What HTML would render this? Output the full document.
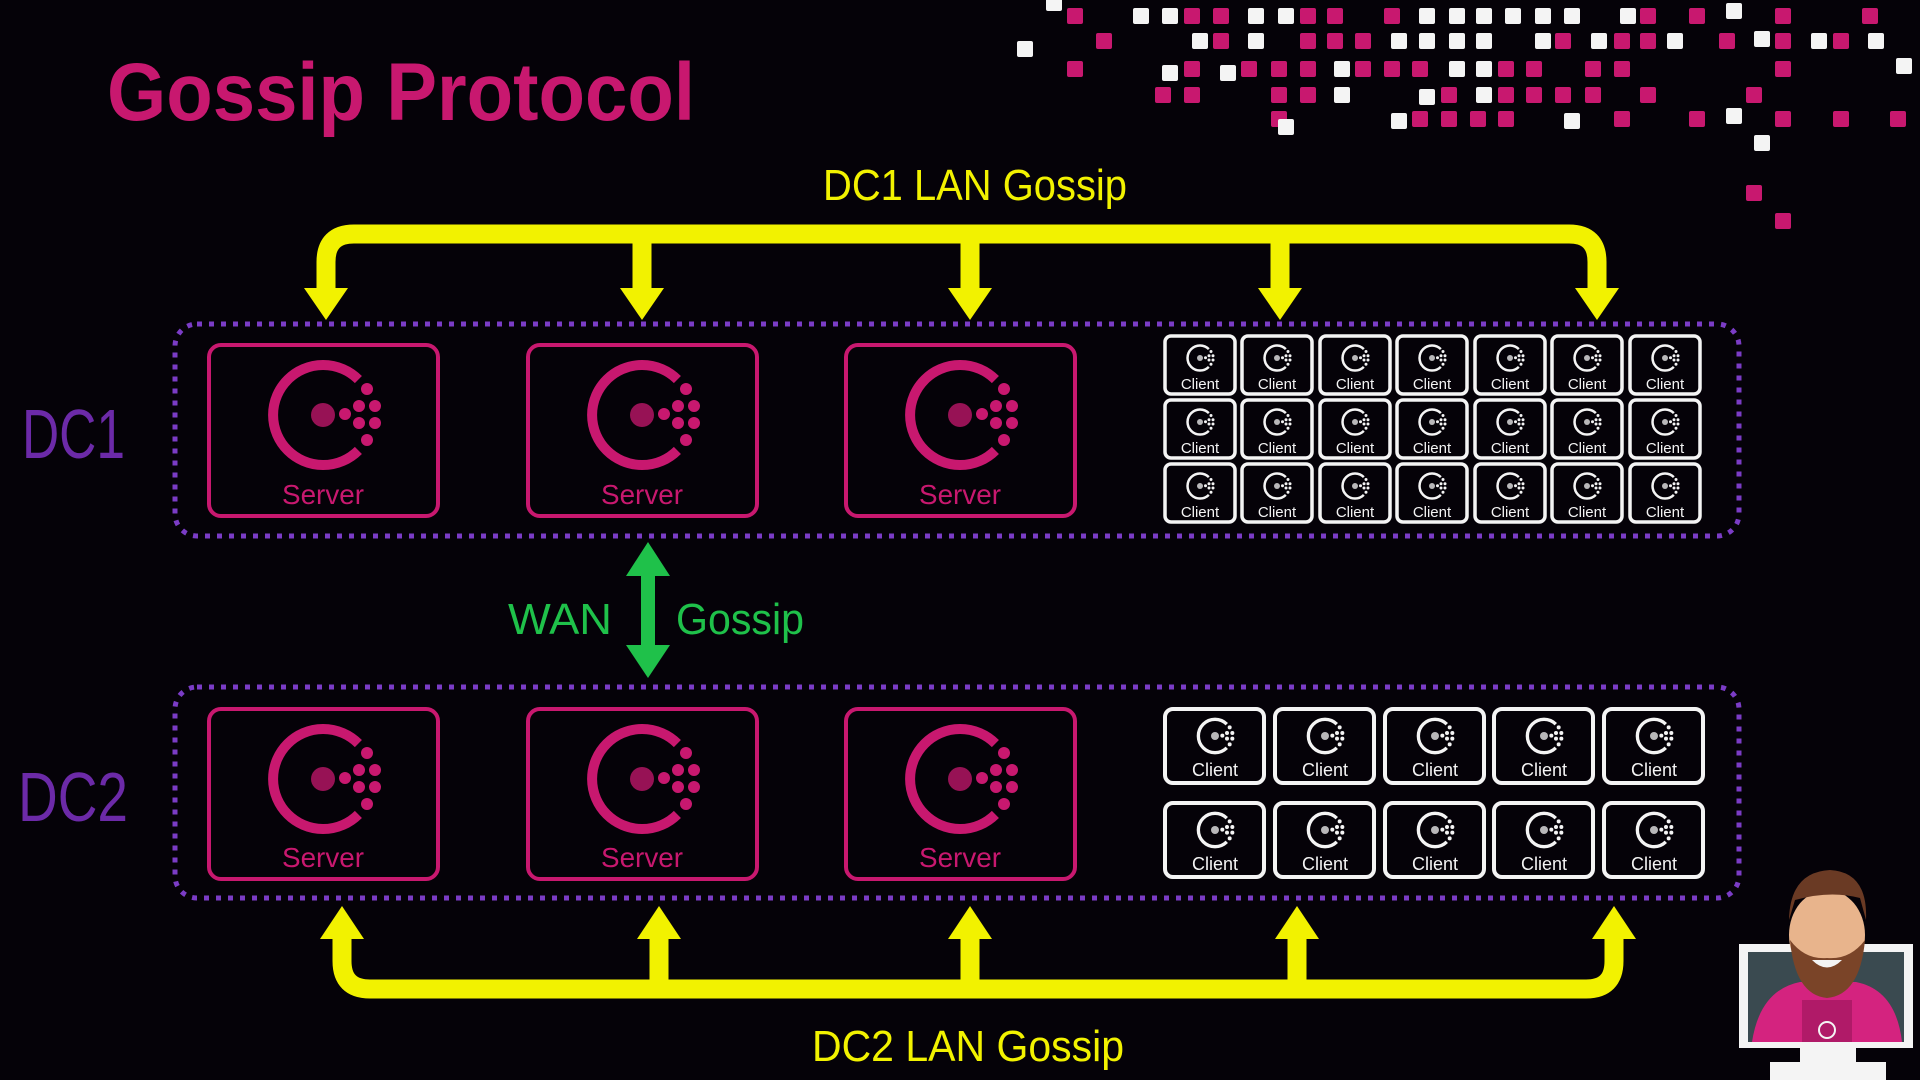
<!DOCTYPE html>
<html><head><meta charset="utf-8"><style>
html,body{margin:0;padding:0;background:#050208;width:1920px;height:1080px;overflow:hidden}
svg{display:block}
text{font-family:"Liberation Sans",sans-serif}
</style></head><body>
<svg width="1920" height="1080" viewBox="0 0 1920 1080" xmlns="http://www.w3.org/2000/svg">
<defs>
<symbol id="logo" overflow="visible" viewBox="-60 -60 120 120">
<path d="M35.4,-35.4 A50,50 0 1 0 35.4,35.4" fill="none" stroke="currentColor" stroke-width="10"/>
<circle cx="0" cy="0" r="12" fill="currentColor" opacity="0.75"/>
<g fill="currentColor">
<circle cx="22" cy="-1" r="6"/><circle cx="36" cy="-9" r="6"/><circle cx="36" cy="8" r="6"/>
<circle cx="52" cy="-9" r="6"/><circle cx="52" cy="8" r="6"/><circle cx="44" cy="-26" r="6"/><circle cx="44" cy="25" r="6"/>
</g>
</symbol>
</defs>
<rect width="1920" height="1080" fill="#050208"/>

<!-- pixel squares -->
<g transform="translate(0,3)">
<g fill="#c8186f">
<rect x="1067" y="5" width="16" height="16" rx="2"/><rect x="1184" y="5" width="16" height="16" rx="2"/><rect x="1213" y="5" width="16" height="16" rx="2"/><rect x="1300" y="5" width="16" height="16" rx="2"/><rect x="1327" y="5" width="16" height="16" rx="2"/><rect x="1384" y="5" width="16" height="16" rx="2"/><rect x="1640" y="5" width="16" height="16" rx="2"/><rect x="1689" y="5" width="16" height="16" rx="2"/><rect x="1775" y="5" width="16" height="16" rx="2"/><rect x="1862" y="5" width="16" height="16" rx="2"/>
<rect x="1096" y="30" width="16" height="16" rx="2"/><rect x="1213" y="30" width="16" height="16" rx="2"/><rect x="1300" y="30" width="16" height="16" rx="2"/><rect x="1327" y="30" width="16" height="16" rx="2"/><rect x="1355" y="30" width="16" height="16" rx="2"/><rect x="1555" y="30" width="16" height="16" rx="2"/><rect x="1614" y="30" width="16" height="16" rx="2"/><rect x="1640" y="30" width="16" height="16" rx="2"/><rect x="1719" y="30" width="16" height="16" rx="2"/><rect x="1775" y="30" width="16" height="16" rx="2"/><rect x="1833" y="30" width="16" height="16" rx="2"/>
<rect x="1067" y="58" width="16" height="16" rx="2"/><rect x="1184" y="58" width="16" height="16" rx="2"/><rect x="1241" y="58" width="16" height="16" rx="2"/><rect x="1271" y="58" width="16" height="16" rx="2"/><rect x="1300" y="58" width="16" height="16" rx="2"/><rect x="1355" y="58" width="16" height="16" rx="2"/><rect x="1384" y="58" width="16" height="16" rx="2"/><rect x="1412" y="58" width="16" height="16" rx="2"/><rect x="1498" y="58" width="16" height="16" rx="2"/><rect x="1526" y="58" width="16" height="16" rx="2"/><rect x="1585" y="58" width="16" height="16" rx="2"/><rect x="1614" y="58" width="16" height="16" rx="2"/><rect x="1775" y="58" width="16" height="16" rx="2"/>
<rect x="1155" y="84" width="16" height="16" rx="2"/><rect x="1184" y="84" width="16" height="16" rx="2"/><rect x="1271" y="84" width="16" height="16" rx="2"/><rect x="1300" y="84" width="16" height="16" rx="2"/><rect x="1441" y="84" width="16" height="16" rx="2"/><rect x="1498" y="84" width="16" height="16" rx="2"/><rect x="1526" y="84" width="16" height="16" rx="2"/><rect x="1555" y="84" width="16" height="16" rx="2"/><rect x="1585" y="84" width="16" height="16" rx="2"/><rect x="1640" y="84" width="16" height="16" rx="2"/><rect x="1746" y="84" width="16" height="16" rx="2"/>
<rect x="1271" y="108" width="16" height="16" rx="2"/><rect x="1412" y="108" width="16" height="16" rx="2"/><rect x="1441" y="108" width="16" height="16" rx="2"/><rect x="1470" y="108" width="16" height="16" rx="2"/><rect x="1498" y="108" width="16" height="16" rx="2"/><rect x="1614" y="108" width="16" height="16" rx="2"/><rect x="1689" y="108" width="16" height="16" rx="2"/><rect x="1775" y="108" width="16" height="16" rx="2"/><rect x="1833" y="108" width="16" height="16" rx="2"/><rect x="1890" y="108" width="16" height="16" rx="2"/>
<rect x="1746" y="182" width="16" height="16" rx="2"/><rect x="1775" y="210" width="16" height="16" rx="2"/>
</g>
<g fill="#f4f4f4">
<rect x="1046" y="-8" width="16" height="16" rx="2"/>
<rect x="1133" y="5" width="16" height="16" rx="2"/><rect x="1162" y="5" width="16" height="16" rx="2"/><rect x="1248" y="5" width="16" height="16" rx="2"/><rect x="1278" y="5" width="16" height="16" rx="2"/><rect x="1419" y="5" width="16" height="16" rx="2"/><rect x="1449" y="5" width="16" height="16" rx="2"/><rect x="1476" y="5" width="16" height="16" rx="2"/><rect x="1505" y="5" width="16" height="16" rx="2"/><rect x="1535" y="5" width="16" height="16" rx="2"/><rect x="1564" y="5" width="16" height="16" rx="2"/><rect x="1620" y="5" width="16" height="16" rx="2"/><rect x="1726" y="0" width="16" height="16" rx="2"/>
<rect x="1017" y="38" width="16" height="16" rx="2"/><rect x="1192" y="30" width="16" height="16" rx="2"/><rect x="1248" y="30" width="16" height="16" rx="2"/><rect x="1391" y="30" width="16" height="16" rx="2"/><rect x="1419" y="30" width="16" height="16" rx="2"/><rect x="1449" y="30" width="16" height="16" rx="2"/><rect x="1476" y="30" width="16" height="16" rx="2"/><rect x="1535" y="30" width="16" height="16" rx="2"/><rect x="1591" y="30" width="16" height="16" rx="2"/><rect x="1667" y="30" width="16" height="16" rx="2"/><rect x="1754" y="28" width="16" height="16" rx="2"/><rect x="1811" y="30" width="16" height="16" rx="2"/><rect x="1868" y="30" width="16" height="16" rx="2"/>
<rect x="1162" y="62" width="16" height="16" rx="2"/><rect x="1220" y="62" width="16" height="16" rx="2"/><rect x="1334" y="58" width="16" height="16" rx="2"/><rect x="1449" y="58" width="16" height="16" rx="2"/><rect x="1476" y="58" width="16" height="16" rx="2"/><rect x="1896" y="55" width="16" height="16" rx="2"/>
<rect x="1334" y="84" width="16" height="16" rx="2"/><rect x="1419" y="86" width="16" height="16" rx="2"/><rect x="1476" y="84" width="16" height="16" rx="2"/>
<rect x="1278" y="116" width="16" height="16" rx="2"/><rect x="1391" y="110" width="16" height="16" rx="2"/><rect x="1564" y="110" width="16" height="16" rx="2"/><rect x="1726" y="105" width="16" height="16" rx="2"/><rect x="1754" y="132" width="16" height="16" rx="2"/>
</g>
</g>

<!-- title -->
<text x="107" y="120" font-size="82" font-weight="bold" fill="#c8186f" textLength="588" lengthAdjust="spacingAndGlyphs">Gossip Protocol</text>
<text x="22" y="458" font-size="70" fill="#6c2aa8" textLength="103" lengthAdjust="spacingAndGlyphs">DC1</text>
<text x="18" y="821" font-size="70" fill="#6c2aa8" textLength="110" lengthAdjust="spacingAndGlyphs">DC2</text>

<!-- LAN buses -->
<g stroke="#f2f200" stroke-width="19" fill="none" stroke-linejoin="round">
<path d="M326,292 V262 Q326,234 354,234 H1569 Q1597,234 1597,262 V292"/>
<path d="M642,234 V292 M970,234 V292 M1280,234 V292"/>
<path d="M342,935 V961 Q342,989 370,989 H1586 Q1614,989 1614,961 V935"/>
<path d="M659,989 V935 M970,989 V935 M1297,989 V935"/>
</g>
<g fill="#f2f200">
<polygon points="304,288 348,288 326,320"/><polygon points="620,288 664,288 642,320"/><polygon points="948,288 992,288 970,320"/><polygon points="1258,288 1302,288 1280,320"/><polygon points="1575,288 1619,288 1597,320"/>
<polygon points="320,939 364,939 342,906"/><polygon points="637,939 681,939 659,906"/><polygon points="948,939 992,939 970,906"/><polygon points="1275,939 1319,939 1297,906"/><polygon points="1592,939 1636,939 1614,906"/>
</g>
<text x="823" y="200" font-size="44" fill="#f2f200" textLength="304" lengthAdjust="spacingAndGlyphs">DC1 LAN Gossip</text>
<text x="812" y="1061" font-size="44" fill="#f2f200" textLength="312" lengthAdjust="spacingAndGlyphs">DC2 LAN Gossip</text>

<!-- WAN -->
<rect x="641" y="570" width="14" height="80" fill="#1fc14a"/>
<polygon points="626,576 670,576 648,542" fill="#1fc14a"/>
<polygon points="626,645 670,645 648,678" fill="#1fc14a"/>
<text x="508" y="634" font-size="44" fill="#1fc14a" textLength="104" lengthAdjust="spacingAndGlyphs">WAN</text>
<text x="676" y="634" font-size="44" fill="#1fc14a" textLength="128" lengthAdjust="spacingAndGlyphs">Gossip</text>

<!-- DC boxes -->
<rect x="175" y="324" width="1564" height="212" rx="22" fill="none" stroke="#7b3cc6" stroke-width="5" stroke-dasharray="5 7"/>
<rect x="175" y="687" width="1564" height="211" rx="22" fill="none" stroke="#7b3cc6" stroke-width="5" stroke-dasharray="5 7"/>

<!-- Servers -->
<g fill="none" stroke="#c8186f" stroke-width="4">
<rect x="209" y="345" width="229" height="171" rx="12"/><rect x="528" y="345" width="229" height="171" rx="12"/><rect x="846" y="345" width="229" height="171" rx="12"/>
<rect x="209" y="709" width="229" height="170" rx="12"/><rect x="528" y="709" width="229" height="170" rx="12"/><rect x="846" y="709" width="229" height="170" rx="12"/>
</g>
<g color="#c8186f">
<use href="#logo" x="263" y="355" width="120" height="120"/><use href="#logo" x="582" y="355" width="120" height="120"/><use href="#logo" x="900" y="355" width="120" height="120"/>
<use href="#logo" x="263" y="719" width="120" height="120"/><use href="#logo" x="582" y="719" width="120" height="120"/><use href="#logo" x="900" y="719" width="120" height="120"/>
</g>
<g font-size="28" fill="#c8186f" text-anchor="middle">
<text x="323" y="504" textLength="82" lengthAdjust="spacingAndGlyphs">Server</text><text x="642" y="504" textLength="82" lengthAdjust="spacingAndGlyphs">Server</text><text x="960" y="504" textLength="82" lengthAdjust="spacingAndGlyphs">Server</text>
<text x="323" y="867" textLength="82" lengthAdjust="spacingAndGlyphs">Server</text><text x="642" y="867" textLength="82" lengthAdjust="spacingAndGlyphs">Server</text><text x="960" y="867" textLength="82" lengthAdjust="spacingAndGlyphs">Server</text>
</g>

<!-- DC1 clients -->
<g id="c1">
<g fill="none" stroke="#f4f4f4" stroke-width="3.5">
<rect x="1165" y="336" width="70" height="58" rx="6"/><rect x="1242" y="336" width="70" height="58" rx="6"/><rect x="1320" y="336" width="70" height="58" rx="6"/><rect x="1397" y="336" width="70" height="58" rx="6"/><rect x="1475" y="336" width="70" height="58" rx="6"/><rect x="1552" y="336" width="70" height="58" rx="6"/><rect x="1630" y="336" width="70" height="58" rx="6"/>
</g>
<g color="#f4f4f4">
<use href="#logo" x="1185" y="343" width="30" height="30"/><use href="#logo" x="1262" y="343" width="30" height="30"/><use href="#logo" x="1340" y="343" width="30" height="30"/><use href="#logo" x="1417" y="343" width="30" height="30"/><use href="#logo" x="1495" y="343" width="30" height="30"/><use href="#logo" x="1572" y="343" width="30" height="30"/><use href="#logo" x="1650" y="343" width="30" height="30"/>
</g>
<g font-size="15" fill="#f4f4f4" text-anchor="middle">
<text x="1200" y="389">Client</text><text x="1277" y="389">Client</text><text x="1355" y="389">Client</text><text x="1432" y="389">Client</text><text x="1510" y="389">Client</text><text x="1587" y="389">Client</text><text x="1665" y="389">Client</text>
</g>
</g>
<use href="#c1" y="64"/>
<use href="#c1" y="128"/>

<!-- DC2 clients -->
<g id="c2">
<g fill="none" stroke="#f4f4f4" stroke-width="4">
<rect x="1165" y="709" width="99" height="74" rx="8"/><rect x="1275" y="709" width="99" height="74" rx="8"/><rect x="1385" y="709" width="99" height="74" rx="8"/><rect x="1494" y="709" width="99" height="74" rx="8"/><rect x="1604" y="709" width="99" height="74" rx="8"/>
</g>
<g color="#f4f4f4">
<use href="#logo" x="1195" y="716" width="40" height="40"/><use href="#logo" x="1305" y="716" width="40" height="40"/><use href="#logo" x="1415" y="716" width="40" height="40"/><use href="#logo" x="1524" y="716" width="40" height="40"/><use href="#logo" x="1634" y="716" width="40" height="40"/>
</g>
<g font-size="18" fill="#f4f4f4" text-anchor="middle">
<text x="1215" y="776">Client</text><text x="1325" y="776">Client</text><text x="1435" y="776">Client</text><text x="1544" y="776">Client</text><text x="1654" y="776">Client</text>
</g>
</g>
<use href="#c2" y="94"/>

<!-- avatar -->
<rect x="1739" y="944" width="174" height="104" fill="#f4f4f4"/>
<rect x="1748" y="952" width="156" height="90" fill="#3a4a50"/>
<rect x="1800" y="1048" width="56" height="14" fill="#f4f4f4"/>
<rect x="1770" y="1062" width="116" height="18" fill="#f4f4f4"/>
<path d="M1752,1042 Q1760,990 1800,982 L1856,982 Q1896,990 1902,1042 Z" fill="#d4237f"/>
<rect x="1802" y="1000" width="50" height="42" fill="#b01a68"/>
<circle cx="1827" cy="1030" r="8" fill="none" stroke="#f4f4f4" stroke-width="2"/>
<ellipse cx="1827" cy="935" rx="38" ry="45" fill="#e8b48c"/>
<path d="M1789,920 Q1790,872 1830,870 Q1868,872 1866,920 L1860,898 Q1830,890 1795,900 Z" fill="#6a3a24"/>
<path d="M1790,940 Q1795,995 1827,998 Q1860,995 1865,940 Q1850,960 1827,958 Q1805,960 1790,940 Z" fill="#7a4428"/>
<path d="M1812,960 Q1827,975 1842,960 Z" fill="#f4f4f4"/>
</svg>
</body></html>
